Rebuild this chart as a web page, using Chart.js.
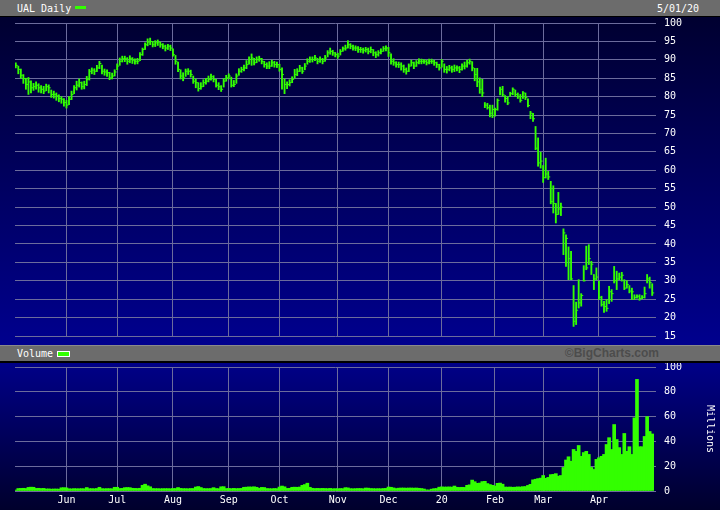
<!DOCTYPE html>
<html>
<head>
<meta charset="utf-8">
<script src="https://cdn.jsdelivr.net/npm/chart.js@4.4.1/dist/chart.umd.min.js"></script>
<style>
  body { margin: 0; background: #000; }
  #wrap { position: relative; width: 720px; height: 510px; overflow: hidden; font-family: "DejaVu Sans Mono", monospace; font-size: 10px; color: #fff; }
  .bar { position: absolute; left: 0; width: 720px; background: #6c6c6c; }
  .panel { position: absolute; left: 0; width: 720px; }
  .lbl { position: absolute; line-height: 15px; white-space: nowrap; }
  canvas { display: block; }
</style>
</head>
<body>
<div id="wrap">
  <div class="bar" style="top:0;height:16px;border-bottom:1px solid #000;">
    <span class="lbl" style="left:17px;top:1px;">UAL Daily</span>
    <span style="position:absolute;left:75px;top:6px;width:11px;height:3px;background:#33ff00;"></span>
    <span class="lbl" style="left:657px;top:1px;">5/01/20</span>
  </div>
  <div class="panel" style="top:17px;height:328px;background:linear-gradient(#000030,#00008e);">
    <canvas id="priceChart" width="720" height="328"></canvas>
  </div>
  <div class="bar" style="top:345px;height:15px;border-top:1px solid #8a8a8a;border-bottom:2px solid #000;">
    <span class="lbl" style="left:17px;top:0px;">Volume</span>
    <span style="position:absolute;left:57px;top:5px;width:11px;height:4px;background:#33ff00;border:1px solid #fff;"></span>
    <span class="lbl" style="right:61px;top:0px;font-family:'Liberation Sans',Arial,sans-serif;font-weight:bold;font-size:12px;color:#4c4c4c;">©BigCharts.com</span>
  </div>
  <div class="panel" style="top:363px;height:147px;background:linear-gradient(#000088,#00002c);">
    <canvas id="volChart" width="720" height="147"></canvas>
  </div>
</div>
<script>
// month grid lines (trading-day index of first session) and their labels
const monthStarts = [20, 40, 62, 84, 104, 127, 147, 168, 189, 208, 230];
const monthLabels = ["Jun", "Jul", "Aug", "Sep", "Oct", "Nov", "Dec", "20", "Feb", "Mar", "Apr"];

// daily bars, May 3 2019 - May 1 2020
const highs = [
  89.2, 88.3, 87.5, 86.0, 85.0, 85.2, 84.3, 83.6, 84.0, 83.5,
  83.0, 82.8, 83.4, 83.2, 81.8, 81.5, 81.0, 80.5, 80.0, 79.5,
  79.0, 80.0, 81.5, 83.0, 84.2, 84.8, 84.0, 84.2, 85.5, 87.4,
  87.8, 87.6, 88.5, 89.6, 88.6, 87.5, 87.3, 86.6, 86.4, 87.3,
  88.9, 90.5, 91.0, 91.0, 90.6, 91.1, 90.6, 90.3, 90.4, 92.0,
  93.2, 94.6, 95.7, 95.9, 95.0, 95.2, 95.4, 94.8, 94.4, 94.0,
  94.2, 94.0, 93.0, 91.2, 89.4, 87.3, 86.5, 87.5, 87.6, 87.2,
  85.6, 84.8, 83.8, 83.8, 84.6, 85.0, 85.6, 86.1, 85.7, 84.7,
  83.8, 83.0, 84.9, 85.8, 86.2, 85.3, 84.4, 86.2, 87.6, 88.0,
  88.6, 89.8, 90.8, 91.6, 90.4, 90.8, 91.0, 90.4, 89.6, 89.2,
  89.5, 89.9, 89.6, 89.4, 88.8, 87.8, 84.8, 84.0, 84.6, 85.4,
  87.4, 87.6, 88.5, 88.0, 89.0, 90.3, 90.8, 90.8, 91.2, 90.4,
  90.8, 90.4, 91.2, 92.5, 93.2, 92.6, 92.0, 91.8, 92.8, 93.5,
  94.0, 95.2, 94.4, 94.0, 93.8, 93.6, 93.4, 93.2, 93.4, 93.2,
  93.5, 92.8, 92.2, 92.5, 93.0, 93.6, 93.8, 93.4, 91.6, 90.3,
  89.5, 89.4, 89.2, 88.6, 87.8, 88.9, 89.9, 89.4, 89.8, 90.3,
  90.2, 90.1, 89.9, 90.2, 90.2, 89.9, 89.4, 88.8, 90.1, 88.9,
  88.2, 88.5, 88.3, 88.6, 88.4, 88.2, 88.9, 89.4, 89.9, 90.2,
  89.5, 87.7, 87.7, 85.1, 84.7, 78.4, 78.2, 77.7, 77.7, 76.9,
  79.4, 82.6, 82.8, 80.3, 80.0, 81.2, 82.4, 81.8, 81.0, 80.6,
  81.4, 81.0, 79.4, 76.0, 75.5, 71.9, 68.8, 64.9, 61.3, 63.3,
  59.7, 57.0, 55.8, 51.0, 54.0, 51.1, 44.1, 42.5, 39.2, 38.0,
  28.7, 24.2, 30.3, 26.5, 34.1, 39.4, 39.8, 35.3, 31.7, 33.5,
  29.9, 25.8, 24.4, 24.9, 28.5, 27.6, 33.9, 32.6, 32.1, 32.3,
  30.3, 30.0, 28.7, 28.0, 26.2, 26.2, 26.2, 26.0, 28.3, 31.7,
  31.0, 29.2
];
const lows = [
  87.8, 86.2, 85.0, 83.6, 82.0, 80.6, 81.0, 81.7, 82.0, 81.2,
  81.0, 80.8, 81.6, 81.0, 79.8, 79.6, 79.0, 78.6, 78.2, 77.4,
  76.9, 77.8, 79.2, 80.8, 81.8, 82.6, 82.0, 82.1, 83.0, 84.5,
  86.2, 86.0, 86.8, 87.6, 86.2, 85.8, 85.5, 84.6, 84.8, 85.6,
  87.3, 88.5, 89.4, 89.5, 88.8, 89.2, 89.0, 88.8, 88.9, 89.8,
  91.2, 92.8, 93.8, 94.1, 93.5, 93.6, 93.9, 93.4, 93.0, 92.4,
  92.8, 92.5, 91.0, 88.8, 86.8, 84.8, 84.3, 85.5, 86.0, 85.3,
  83.6, 82.4, 81.5, 82.0, 82.7, 83.4, 84.0, 84.5, 84.0, 82.6,
  81.9, 81.4, 82.6, 84.2, 84.8, 82.6, 82.7, 83.6, 85.8, 86.6,
  87.0, 87.6, 88.8, 88.5, 88.6, 89.2, 89.6, 88.9, 88.0, 87.6,
  87.6, 88.2, 88.0, 87.9, 86.9, 82.0, 80.8, 82.2, 82.9, 83.8,
  85.0, 85.7, 86.8, 86.3, 87.3, 88.8, 89.3, 89.4, 89.8, 88.9,
  89.3, 88.9, 89.6, 90.8, 91.5, 91.2, 90.8, 90.4, 91.3, 92.3,
  92.6, 93.2, 93.0, 92.6, 92.5, 92.0, 92.0, 91.8, 92.1, 91.6,
  91.9, 91.1, 90.6, 91.0, 91.6, 92.3, 92.4, 90.9, 88.8, 88.5,
  88.0, 87.9, 87.2, 86.6, 86.1, 86.8, 88.3, 87.6, 88.2, 88.9,
  88.9, 89.0, 88.6, 88.9, 89.0, 88.5, 87.9, 87.2, 88.0, 86.6,
  86.4, 87.0, 86.6, 86.8, 87.0, 86.5, 87.2, 87.5, 88.0, 88.8,
  87.0, 84.3, 82.7, 80.9, 80.0, 77.0, 76.6, 74.5, 74.3, 74.7,
  76.3, 80.5, 80.1, 78.5, 77.8, 80.1, 80.5, 80.1, 79.5, 78.5,
  79.5, 79.2, 77.2, 74.0, 73.3, 65.6, 61.1, 60.6, 56.7, 57.9,
  57.5, 50.9, 48.4, 45.7, 48.0, 47.7, 37.1, 33.9, 30.3, 30.3,
  17.6, 18.1, 22.6, 23.1, 29.9, 33.0, 34.4, 31.7, 27.6, 30.3,
  24.9, 23.1, 21.4, 21.7, 23.8, 24.4, 29.4, 27.6, 30.3, 29.9,
  27.6, 28.0, 26.7, 24.9, 24.9, 25.3, 24.7, 25.1, 25.3, 29.4,
  28.0, 26.0
];
const closes = [
  88.5, 87.4, 85.8, 84.9, 83.3, 84.0, 82.4, 82.7, 83.1, 82.4,
  82.0, 81.5, 82.7, 82.4, 80.6, 80.6, 80.2, 79.5, 79.3, 78.4,
  77.7, 79.3, 80.6, 82.4, 83.1, 83.8, 82.7, 83.3, 84.7, 86.9,
  87.2, 86.9, 87.8, 89.0, 86.9, 86.7, 86.5, 85.1, 85.6, 86.7,
  88.3, 89.6, 90.3, 90.3, 89.6, 90.3, 89.9, 89.6, 89.6, 91.4,
  92.8, 94.1, 94.8, 95.0, 94.1, 94.6, 94.8, 94.1, 93.7, 93.2,
  93.7, 93.2, 91.4, 89.6, 87.4, 85.6, 85.1, 86.9, 86.9, 86.0,
  84.2, 83.8, 82.2, 82.7, 83.8, 84.2, 84.7, 85.4, 84.7, 83.1,
  82.7, 82.0, 84.2, 85.1, 85.6, 83.1, 83.3, 85.6, 86.9, 87.4,
  87.8, 88.7, 90.1, 90.5, 89.2, 90.1, 90.3, 89.6, 88.7, 88.3,
  88.3, 89.2, 88.7, 88.7, 87.4, 86.0, 83.3, 83.3, 83.8, 84.7,
  86.0, 86.9, 87.8, 86.9, 88.3, 89.6, 90.1, 90.1, 90.5, 89.6,
  90.1, 89.6, 90.5, 91.9, 92.3, 91.9, 91.4, 91.0, 92.3, 93.0,
  93.2, 94.1, 93.7, 93.2, 93.2, 92.8, 92.8, 92.6, 92.8, 92.3,
  92.8, 91.9, 91.4, 91.9, 92.3, 93.0, 93.2, 91.9, 89.6, 89.2,
  88.7, 88.7, 88.3, 87.4, 86.9, 88.3, 89.2, 88.3, 89.2, 89.6,
  89.6, 89.6, 89.2, 89.6, 89.6, 89.2, 88.7, 87.8, 89.6, 87.4,
  87.4, 87.8, 87.4, 87.8, 87.8, 87.4, 88.3, 88.3, 89.2, 89.6,
  87.8, 86.0, 84.0, 82.0, 81.0, 77.7, 77.0, 75.5, 76.5, 76.5,
  79.0, 82.0, 80.5, 79.5, 78.3, 80.8, 82.0, 80.6, 80.0, 79.0,
  81.0, 79.8, 77.6, 75.5, 74.0, 66.0, 62.0, 62.5, 58.0, 59.0,
  58.2, 51.5, 51.0, 48.0, 49.5, 50.0, 43.0, 41.5, 36.0, 30.5,
  19.0, 22.0, 24.0, 26.0, 30.0, 33.5, 36.0, 34.5, 30.5, 31.0,
  25.5, 23.5, 23.0, 22.5, 27.0, 26.5, 30.0, 30.5, 31.0, 31.5,
  28.0, 29.0, 27.2, 27.0, 25.5, 25.8, 25.2, 25.5, 26.5, 30.5,
  29.5, 26.7
];
// volume, millions of shares
const volumes = [
  0.8, 2.0, 2.1, 2.2, 2.0, 2.9, 3.1, 3.0, 2.1, 2.2,
  2.0, 2.1, 1.6, 1.7, 1.5, 1.6, 1.6, 1.5, 2.6, 2.7,
  2.5, 1.8, 1.7, 1.9, 1.8, 1.8, 1.9, 1.8, 2.8, 1.9,
  1.9, 1.8, 2.0, 3.0, 1.9, 1.8, 1.9, 1.9, 1.8, 3.0,
  3.0, 2.0, 2.1, 2.7, 2.8, 2.7, 2.2, 2.1, 2.0, 2.2,
  4.6, 5.5, 4.2, 3.4, 2.0, 1.9, 1.9, 1.8, 1.9, 1.9,
  1.9, 1.8, 2.0, 2.0, 2.8, 2.1, 1.9, 1.9, 1.8, 2.0,
  2.0, 3.2, 3.6, 2.8, 2.0, 1.9, 1.9, 2.0, 2.7, 2.0,
  1.9, 3.4, 3.5, 2.0, 2.1, 1.9, 2.1, 1.9, 2.0, 2.1,
  3.0, 3.1, 3.3, 3.2, 3.4, 3.0, 2.2, 2.9, 2.8, 2.0,
  1.9, 1.8, 2.0, 1.9, 3.2, 4.0, 3.4, 2.1, 2.2, 3.0,
  3.1, 3.0, 3.2, 4.6, 5.2, 6.3, 3.0, 2.2, 2.0, 2.1,
  2.0, 2.1, 2.0, 1.9, 2.1, 1.8, 1.9, 1.8, 2.0, 1.9,
  2.7, 2.5, 1.9, 1.8, 1.9, 2.0, 2.0, 1.8, 2.4, 2.3,
  2.0, 1.9, 1.8, 1.9, 1.8, 2.0, 2.1, 3.2, 3.0, 2.5,
  2.0, 2.3, 2.4, 2.4, 2.3, 2.4, 2.4, 2.3, 2.4, 2.2,
  2.0, 1.6, 0.9, 0.8, 1.5, 1.9, 2.0, 3.1, 3.3, 3.2,
  3.2, 3.3, 3.1, 4.0, 3.0, 2.9, 3.0, 2.9, 4.6, 5.0,
  8.8, 7.5, 6.2, 6.4, 7.6, 7.8, 6.0, 5.2, 4.6, 4.0,
  6.2, 6.4, 5.5, 3.2, 3.1, 3.2, 3.0, 3.1, 3.3, 3.2,
  3.5, 3.6, 4.5, 5.4, 9.0, 9.5, 10.0, 10.4, 12.5, 10.2,
  11.0, 13.2, 13.4, 14.0, 12.0, 12.5, 19.0, 25.0, 27.6, 24.0,
  33.5, 32.0, 36.7, 28.0, 31.0, 32.0, 29.5, 19.0, 17.4, 25.5,
  26.8, 28.0, 29.5, 37.5, 43.0, 33.5, 53.6, 41.5, 35.0, 29.5,
  46.4, 32.0, 35.7, 29.5, 59.0, 90.0, 35.7, 35.7, 44.0, 60.0,
  48.0, 46.0
];

const GREEN = "#33ff00";
const GRID = "#6c6c9c";
const X_MIN = -0.3;
const X_MAX = 252.5;
const monoFont = { family: "DejaVu Sans Mono", size: 10 };

Chart.defaults.font.family = "DejaVu Sans Mono";

// no extra room around the plot for edge labels
function noEdgePadding(axis) {
  axis.paddingTop = 0;
  axis.paddingBottom = 0;
  axis.paddingLeft = 0;
  axis.paddingRight = 0;
}

// shared x axis: month grid lines only
function monthAxis(showLabels, height) {
  return {
    type: "linear",
    min: X_MIN,
    max: X_MAX,
    offset: false,
    afterBuildTicks: (axis) => {
      axis.ticks = monthStarts.map((v) => ({ value: v }));
    },
    afterFit: (axis) => {
      axis.height = height;
      noEdgePadding(axis);
    },
    ticks: {
      display: showLabels,
      color: "#fff",
      font: monoFont,
      padding: 3,
      maxRotation: 0,
      autoSkip: false,
      callback: (v) => monthLabels[monthStarts.indexOf(v)],
    },
    grid: { color: GRID, drawTicks: false, offset: false },
    border: { display: false },
  };
}

// Price Chart
const priceCtx = document.getElementById("priceChart").getContext("2d");
new Chart(priceCtx, {
  type: "bar",
  data: {
    datasets: [
      {
        type: "bar",
        data: highs.map((h, i) => ({ x: i, y: [lows[i], h] })),
        backgroundColor: GREEN,
        barThickness: 1.2,
        grouped: false,
      },
      {
        type: "line",
        data: closes.map((c, i) => ({ x: i, y: c })),
        showLine: false,
        pointStyle: "dash",
        pointRadius: 2,
        pointBorderWidth: 1,
        pointBorderColor: GREEN,
        pointBackgroundColor: GREEN,
      },
    ],
  },
  options: {
    responsive: false,
    animation: false,
    layout: { padding: { left: 15, top: 6, right: 0, bottom: 9 } },
    plugins: { legend: { display: false }, tooltip: { enabled: false } },
    scales: {
      x: monthAxis(false, 0),
      y: {
        position: "right",
        min: 15,
        max: 100,
        ticks: { stepSize: 5, color: "#fff", font: monoFont, padding: 8 },
        grid: { color: GRID, drawTicks: false },
        border: { display: false },
        afterFit: (axis) => {
          axis.width = 64;
          noEdgePadding(axis);
        },
      },
    },
  },
});

// Volume Chart
const volCtx = document.getElementById("volChart").getContext("2d");
new Chart(volCtx, {
  type: "bar",
  data: {
    datasets: [
      {
        data: volumes.map((v, i) => ({ x: i, y: v })),
        backgroundColor: GREEN,
        barThickness: 3,
        borderWidth: 0,
      },
    ],
  },
  options: {
    responsive: false,
    animation: false,
    layout: { padding: { left: 15, top: 4, right: 0, bottom: 0 } },
    plugins: { legend: { display: false }, tooltip: { enabled: false } },
    scales: {
      x: monthAxis(true, 19),
      y: {
        position: "right",
        min: 0,
        max: 100,
        ticks: { stepSize: 20, color: "#fff", font: monoFont, padding: 8 },
        grid: { color: GRID, drawTicks: false },
        border: { display: false },
        title: { display: true, text: "Millions", color: "#fff", font: monoFont },
        afterFit: (axis) => {
          axis.width = 64;
          noEdgePadding(axis);
        },
      },
    },
  },
});
</script>
</body>
</html>
